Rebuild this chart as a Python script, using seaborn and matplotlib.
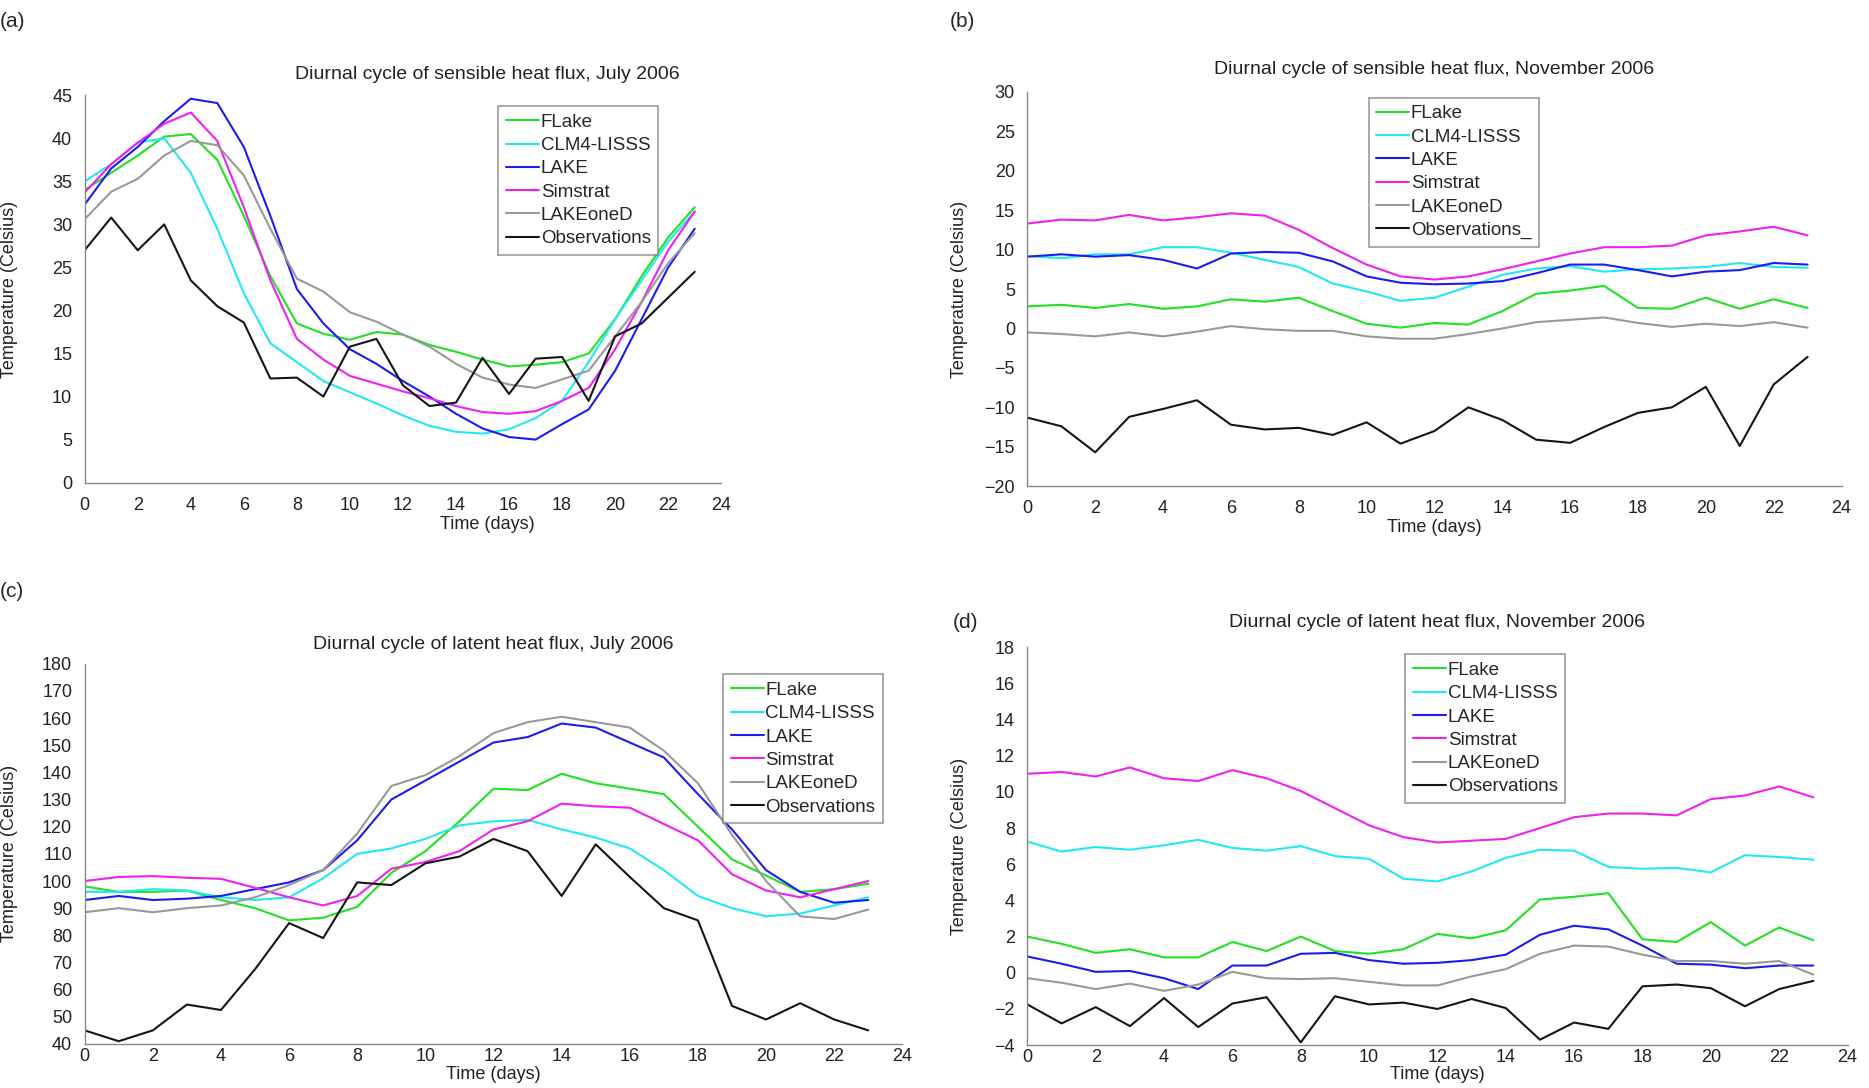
import numpy as np
import pandas as pd
import seaborn as sns
import matplotlib
matplotlib.use("Agg")
import matplotlib.pyplot as plt

"""
Data (read off the figure)
"""
hours = list(range(24))
models = ['FLake', 'CLM4-LISSS', 'LAKE', 'Simstrat', 'LAKEoneD', 'Observations']

# (a) sensible heat flux, July 2006
a_flake = [34, 36, 38, 40.2, 40.5, 37.5, 31, 24, 18.5, 17.3, 16.6, 17.5, 17.2, 16, 15.2, 14.3, 13.5, 13.7, 14, 15, 19, 24, 28.5, 32]
a_clm4 = [35, 37, 39.5, 40, 36, 29.5, 22, 16.2, 14, 11.8, 10.5, 9.2, 7.8, 6.6, 5.9, 5.7, 6.2, 7.5, 9.5, 14, 19, 23.5, 28, 31.5]
a_lake = [32.3, 36.5, 39, 42, 44.6, 44.1, 39, 31, 22.5, 18.5, 15.5, 13.8, 11.8, 10, 8, 6.3, 5.3, 5, 6.8, 8.5, 13, 19, 25, 29.5]
a_simstrat = [33.7, 37, 39.5, 41.7, 43, 39.7, 32, 23.5, 16.7, 14.3, 12.4, 11.5, 10.6, 9.8, 8.9, 8.2, 8, 8.3, 9.5, 11, 15.5, 21, 27, 31.5]
a_lakeoned = [30.6, 33.8, 35.3, 38, 39.7, 39.2, 35.7, 29.5, 23.7, 22.2, 19.8, 18.7, 17.2, 15.8, 13.8, 12.2, 11.4, 11, 12, 13, 17, 21, 25.5, 29]
a_obs = [27, 30.8, 27, 30, 23.5, 20.5, 18.6, 12.1, 12.2, 10, 15.8, 16.7, 11.3, 8.9, 9.3, 14.5, 10.3, 14.4, 14.6, 9.5, 17, 18.5, 21.5, 24.5]

# (b) sensible heat flux, November 2006
b_flake = [2.8, 3, 2.6, 3.1, 2.5, 2.8, 3.7, 3.4, 3.9, 2.2, 0.6, 0.1, 0.7, 0.5, 2.2, 4.4, 4.8, 5.4, 2.6, 2.5, 3.9, 2.5, 3.7, 2.6]
b_clm4 = [9.2, 8.9, 9.4, 9.4, 10.3, 10.3, 9.6, 8.7, 7.8, 5.7, 4.7, 3.5, 3.9, 5.3, 6.8, 7.6, 7.9, 7.2, 7.5, 7.6, 7.8, 8.3, 7.8, 7.7]
b_lake = [9.1, 9.4, 9.1, 9.3, 8.7, 7.6, 9.5, 9.7, 9.6, 8.5, 6.6, 5.8, 5.6, 5.7, 6.0, 7.0, 8.1, 8.1, 7.4, 6.6, 7.2, 7.4, 8.3, 8.1]
b_simstrat = [13.3, 13.8, 13.7, 14.4, 13.7, 14.1, 14.6, 14.3, 12.5, 10.2, 8.1, 6.6, 6.2, 6.6, 7.5, 8.5, 9.5, 10.3, 10.3, 10.5, 11.8, 12.3, 12.9, 11.8]
b_lakeoned = [-0.5, -0.7, -1.0, -0.5, -1.0, -0.4, 0.3, -0.1, -0.3, -0.3, -1.0, -1.3, -1.3, -0.7, 0.0, 0.8, 1.1, 1.4, 0.7, 0.2, 0.6, 0.3, 0.8, 0.1]
b_obs = [-11.3, -12.4, -15.7, -11.2, -10.2, -9.1, -12.2, -12.8, -12.6, -13.5, -11.9, -14.6, -13.0, -10.0, -11.6, -14.1, -14.5, -12.5, -10.7, -10.0, -7.4, -14.9, -7.1, -3.6]

# (c) latent heat flux, July 2006
c_flake = [98, 96, 96, 96.5, 93, 90, 85.5, 86.5, 90.5, 103, 111, 122, 134, 133.5, 139.5, 136, 134, 132, 120, 108, 102, 96, 97, 99]
c_clm4 = [96, 96, 97, 96.5, 94, 93, 94, 101, 110, 112, 115.5, 120.5, 122, 122.5, 119, 116, 112, 104, 94.5, 90, 87, 88, 91, 94]
c_lake = [93, 94.5, 93, 93.5, 94.5, 97, 99.5, 104, 115, 130, 137, 144, 151, 153, 158, 156.5, 151, 145.5, 132, 119, 104, 96, 92, 93]
c_simstrat = [100, 101.5, 101.8, 101.2, 100.8, 97.5, 94, 91, 94.5, 104.5, 107, 111, 119, 122, 128.5, 127.5, 127, 121, 115, 102.5, 96.5, 94, 97, 100]
c_lakeoned = [88.5, 90, 88.5, 90, 91, 94, 98.5, 104, 117.5, 135, 139, 146, 154.5, 158.5, 160.5, 158.5, 156.5, 148, 136, 117, 100, 87, 86, 89.5]
c_obs = [45, 41, 45, 54.5, 52.5, 67.5, 84.5, 79, 99.5, 98.5, 106.5, 109, 115.5, 111, 94.5, 113.5, 101.5, 90, 85.5, 54, 49, 55, 49, 45]

# (d) latent heat flux, November 2006
d_flake = [2.0, 1.6, 1.1, 1.3, 0.85, 0.85, 1.7, 1.2, 2.0, 1.2, 1.05, 1.3, 2.15, 1.9, 2.35, 4.05, 4.2, 4.4, 1.85, 1.7, 2.8, 1.5, 2.5, 1.8]
d_clm4 = [7.25, 6.7, 6.95, 6.8, 7.05, 7.35, 6.9, 6.75, 7.0, 6.45, 6.3, 5.2, 5.05, 5.6, 6.35, 6.8, 6.75, 5.85, 5.75, 5.8, 5.55, 6.5, 6.4, 6.25]
d_lake = [0.9, 0.5, 0.05, 0.1, -0.3, -0.9, 0.4, 0.4, 1.05, 1.1, 0.7, 0.5, 0.55, 0.7, 1.0, 2.1, 2.6, 2.4, 1.5, 0.5, 0.45, 0.25, 0.4, 0.4]
d_simstrat = [11.0, 11.1, 10.85, 11.35, 10.75, 10.6, 11.2, 10.75, 10.05, 9.1, 8.15, 7.5, 7.2, 7.3, 7.4, 8.0, 8.6, 8.8, 8.8, 8.7, 9.6, 9.8, 10.3, 9.7]
d_lakeoned = [-0.3, -0.55, -0.9, -0.6, -1.0, -0.65, 0.05, -0.3, -0.35, -0.3, -0.5, -0.7, -0.7, -0.2, 0.2, 1.05, 1.5, 1.45, 1.0, 0.65, 0.65, 0.5, 0.65, -0.1]
d_obs = [-1.75, -2.8, -1.9, -2.95, -1.4, -3.0, -1.7, -1.35, -3.85, -1.3, -1.75, -1.65, -2.0, -1.45, -1.95, -3.7, -2.75, -3.1, -0.75, -0.65, -0.85, -1.85, -0.9, -0.45]

colors = ['#22e022', '#22e8f2', '#1c1cf0', '#f020f0', '#999999', '#151515']

def long_df(series, labels):
    frames = []
    for vals, lab in zip(series, labels):
        frames.append(pd.DataFrame({'hour': hours, 'value': vals, 'model': lab}))
    return pd.concat(frames, ignore_index=True)

sns.set_style("white")
plt.rcParams['font.family'] = ['Liberation Sans', 'DejaVu Sans']

fig = plt.figure(figsize=(18.69, 10.88), dpi=100)

panels = [
    # series, labels, axes rect, ylim, ystep, title, title x, title y, legend anchor,
    # xlabel y, ylabel x, x tick pad
    ([a_flake, a_clm4, a_lake, a_simstrat, a_lakeoned, a_obs], models,
     [0.0453, 0.5564, 0.3406, 0.356], (0, 45), 5,
     'Diurnal cycle of sensible heat flux, July 2006', 0.633, 1.055, (0.65, 0.972),
     -0.085, -0.105, 10),
    ([b_flake, b_clm4, b_lake, b_simstrat, b_lakeoned, b_obs], models[:-1] + ['Observations_'],
     [0.5497, 0.5531, 0.4356, 0.3625], (-20, 30), 5,
     'Diurnal cycle of sensible heat flux, November 2006', 0.5, 1.057, (0.419, 0.985),
     -0.083, -0.073, 10),
    ([c_flake, c_clm4, c_lake, c_simstrat, c_lakeoned, c_obs], models,
     [0.0453, 0.0405, 0.4375, 0.3494], (40, 180), 10,
     'Diurnal cycle of latent heat flux, July 2006', 0.5, 1.05, (0.781, 0.972),
     -0.058, -0.082, 3),
    ([d_flake, d_clm4, d_lake, d_simstrat, d_lakeoned, d_obs], models,
     [0.5497, 0.0394, 0.4388, 0.3658], (-4, 18), 2,
     'Diurnal cycle of latent heat flux, November 2006', 0.5, 1.063, (0.461, 0.982),
     -0.053, -0.073, 3),
]

for (series, labels, rect, ylim, ystep, title, tx, ty, anchor,
     xly, ylx, xpad) in panels:
    ax = fig.add_axes(rect)
    df = long_df(series, labels)
    sns.lineplot(data=df, x='hour', y='value', hue='model', palette=colors,
                 linewidth=1.5, ax=ax)
    ax.set_xlim(0, 24)
    ax.set_ylim(*ylim)
    ax.set_xticks(range(0, 25, 2))
    ax.set_yticks(np.arange(ylim[0], ylim[1] + 0.1, ystep))
    ax.tick_params(direction='in', length=5, width=0.9, color='#888888',
                   labelsize=13, labelcolor='#222222')
    ax.tick_params(axis='x', pad=xpad)
    ax.tick_params(axis='y', pad=9)
    for s in ['top', 'right']:
        ax.spines[s].set_visible(False)
    for s in ['left', 'bottom']:
        ax.spines[s].set_color('#888888')
        ax.spines[s].set_linewidth(1.0)
    ax.set_xlabel('Time (days)', fontsize=13, color='#222222')
    ax.xaxis.set_label_coords(tx, xly)
    ax.set_ylabel('Temperature (Celsius)', fontsize=13, color='#222222')
    ax.yaxis.set_label_coords(ylx, 0.5)
    ax.text(tx, ty, title, transform=ax.transAxes, ha='center', va='center',
            fontsize=14, color='#222222')
    sns.move_legend(ax, loc='upper left', bbox_to_anchor=anchor, title=None,
                    frameon=True, fancybox=False, fontsize=13.5,
                    handlelength=1.75, handletextpad=0.1, labelspacing=0.33,
                    borderpad=0.4, borderaxespad=0)
    leg = ax.get_legend()
    leg.get_frame().set_edgecolor('#777777')
    leg.get_frame().set_linewidth(1.1)
    for line in leg.get_lines():
        line.set_linewidth(1.5)

fig.text(0.0, 0.98, '(a)', fontsize=15, va='center')
fig.text(0.508, 0.98, '(b)', fontsize=15, va='center')
fig.text(0.0, 0.456, '(c)', fontsize=15, va='center')
fig.text(0.510, 0.428, '(d)', fontsize=15, va='center')

fig.savefig('out.png', dpi=100)
